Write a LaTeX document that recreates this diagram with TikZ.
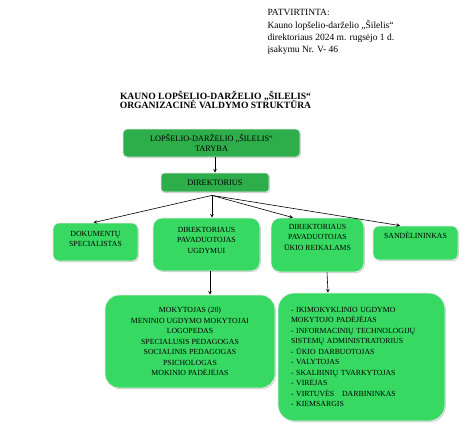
\documentclass[tikz,border=0pt]{standalone}
\usepackage{fontspec}
\setmainfont{Liberation Serif}
\usetikzlibrary{shadows}
\definecolor{topgreen}{HTML}{2EAD4B}
\definecolor{boxgreen}{HTML}{38D962}
\newcommand{\boxfont}{\fontsize{7.8}{10.5}\selectfont}
\newcommand{\topfont}{\fontsize{8.3}{10}\selectfont}
\newcommand{\edgecolor}{white!85!gray}

\begin{document}
\begin{tikzpicture}[x=1pt, y=-1pt, >=stealth,
    box/.style={rounded corners=#1, fill=boxgreen, draw=\edgecolor, line width=0.8pt,
        drop shadow={shadow xshift=0.9pt, shadow yshift=-1pt, fill=black!40},
        align=center, font=\boxfont, inner sep=0pt},
    box/.default=8pt,
    link/.style={->, line width=0.6pt}]
        \useasboundingbox (0,0) rectangle (474,437);

        % heading
        \node[anchor=north west, align=left, font=\fontsize{9.5}{12.3}\selectfont] (approved) at (264,6)
            {PATVIRTINTA:\\Kauno lopšelio-darželio „Šilelis“\\direktoriaus 2024 m. rugsėjo 1 d.\\įsakymu Nr. V- 46};
        \node[align=center, font=\fontsize{9.6}{9.8}\selectfont\bfseries] (title) at (215.5,100)
            {KAUNO LOPŠELIO-DARŽELIO „ŠILELIS“\\ORGANIZACINĖ VALDYMO STRUKTŪRA};

        % boxes
        \node[box=4pt, fill=topgreen, font=\topfont, minimum width=177pt, minimum height=28pt] (taryba) at (211.5,143)
            {LOPŠELIO-DARŽELIO „ŠILELIS“\\TARYBA};
        \node[box=3pt, fill=topgreen, font=\topfont, minimum width=108pt, minimum height=19pt] (dir) at (215,182.5)
            {DIREKTORIUS};
        \node[box=6pt, minimum width=85pt, minimum height=38pt] (dok) at (95.5,242)
            {DOKUMENTŲ\\SPECIALISTAS\\[-4pt]};
        \node[box=9pt, minimum width=107pt, minimum height=53pt] (ugd) at (206.5,244.5)
            {DIREKTORIAUS\\PAVADUOTOJAS\\UGDYMUI\\[-2pt]};
        \node[box=9pt, minimum width=93pt, minimum height=54pt] (uk) at (317.5,245)
            {DIREKTORIAUS\\PAVADUOTOJAS\\ŪKIO REIKALAMS\\[5pt]};
        \node[box=6pt, minimum width=85pt, minimum height=34pt, text height=5pt, text depth=14pt] (sand) at (415.5,243)
            {SANDĖLININKAS};
        \node[box=14pt, minimum width=170pt, minimum height=93pt] (mok) at (190,341.5)
            {MOKYTOJAS (20)\\MENINIO UGDYMO MOKYTOJAI\\LOGOPEDAS\\SPECIALUSIS PEDAGOGAS\\SOCIALINIS PEDAGOGAS\\PSICHOLOGAS\\MOKINIO PADĖJĖJAS};
        \node[box=16pt, minimum width=167pt, minimum height=128pt, text width=141pt, align=left] (staff) at (361.5,357)
            {- IKIMOKYKLINIO UGDYMO\\MOKYTOJO PADĖJĖJAS\\- INFORMACINIŲ TECHNOLOGIJŲ\\SISTEMŲ ADMINISTRATORIUS\\- ŪKIO DARBUOTOJAS\\- VALYTOJAS\\- SKALBINIŲ TVARKYTOJAS\\- VIRĖJAS\\- VIRTUVĖS~~ DARBININKAS\\- KIEMSARGIS\\[-8pt]};

        % arrows
        \draw[link] (dir |- taryba.south) -- (dir.north);
        \coordinate (fan) at ([xshift=-3pt, yshift=-3pt]dir.south);
        \draw[link] (fan) -- ([xshift=-2pt]dok.north);
        \draw[link] (fan) -- ([xshift=5.5pt]ugd.north);
        \draw[link] (fan) -- ([xshift=-24.5pt]uk.north);
        \draw[link] (fan) -- ([xshift=-15.5pt]sand.north);
        \draw[link] ([xshift=3.5pt]ugd.south) -- ([xshift=20pt]mok.north);
        \draw[link] ([xshift=9.5pt]uk.south) -- ([xshift=-33.5pt]staff.north);
\end{tikzpicture}
\end{document}
